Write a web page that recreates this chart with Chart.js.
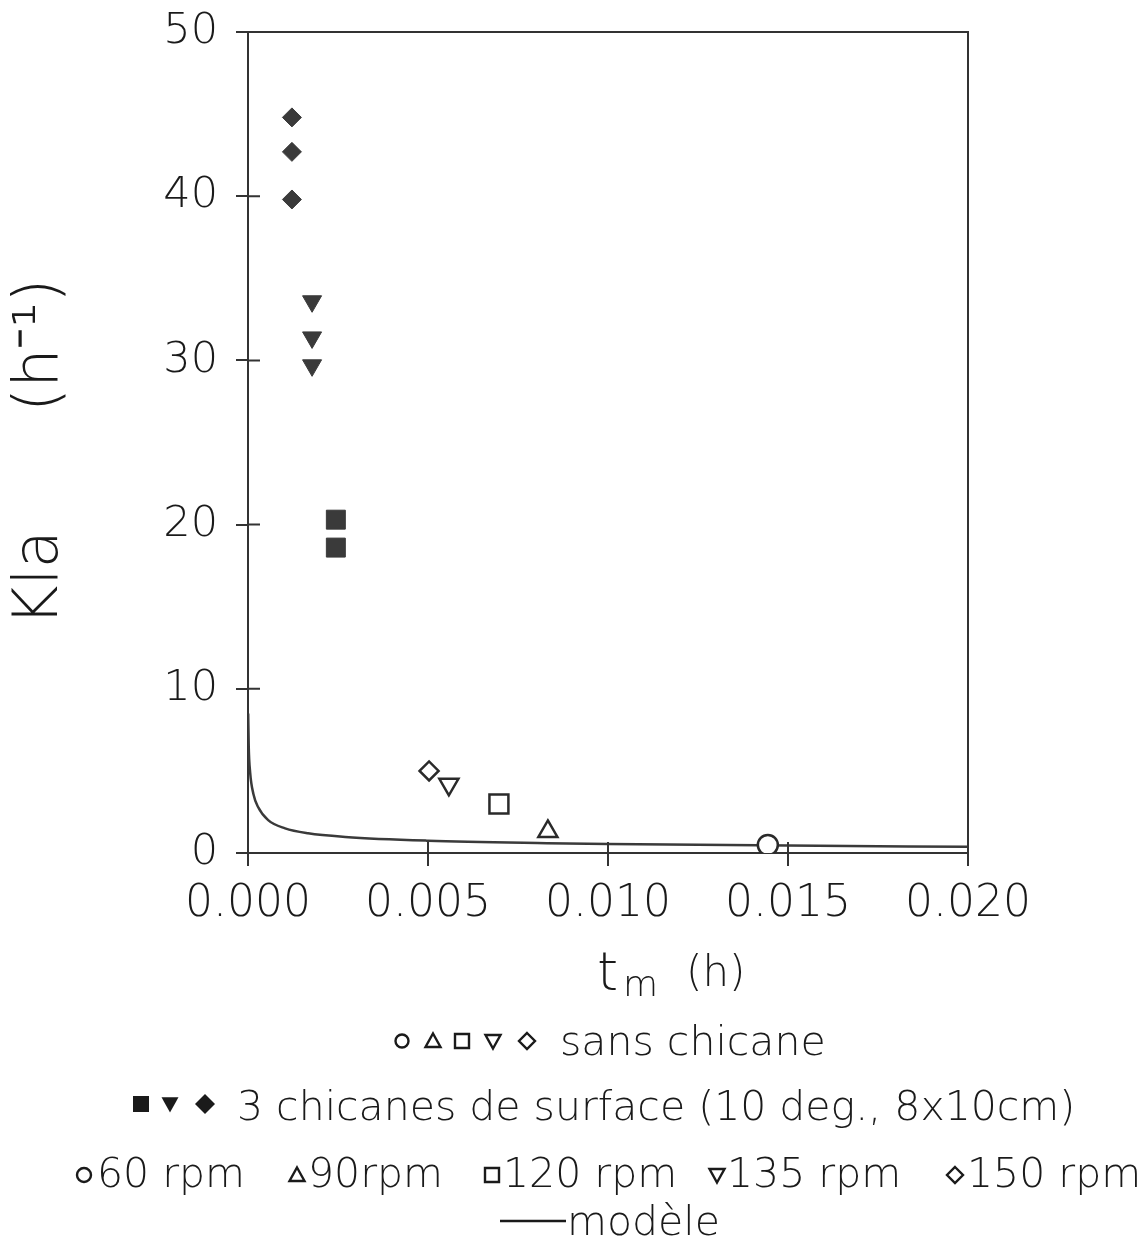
<!DOCTYPE html>
<html><head><meta charset="utf-8">
<script src="https://cdn.jsdelivr.net/npm/chart.js@4.4.1/dist/chart.umd.min.js"></script>
<style>html,body{margin:0;padding:0;background:#fff}#wrap{width:1147px;height:1243px;position:relative}</style>
</head><body><div id="wrap"><canvas id="c" width="1147" height="1243"></canvas></div>
<script>
// ---- data ----
const xTickValues = [0, 0.005, 0.010, 0.015, 0.020];
const yTickValues = [0, 10, 20, 30, 40, 50];

// sans chicane (open symbols)
const rpm60_t  = [0.01444];  const rpm60_kla  = [0.49];
const rpm90_t  = [0.00833];  const rpm90_kla  = [1.31];
const rpm120_t = [0.00697];  const rpm120_kla = [2.98];
const rpm135_t = [0.00558];  const rpm135_kla = [4.18];
const rpm150_t = [0.00503];  const rpm150_kla = [5.00];

// 3 chicanes de surface (filled symbols)
const chic120_t = [0.00244, 0.00244];          const chic120_kla = [20.3, 18.6];
const chic135_t = [0.00178, 0.00178, 0.00178]; const chic135_kla = [33.6, 31.4, 29.7];
const chic150_t = [0.00122, 0.00122, 0.00122]; const chic150_kla = [44.8, 42.7, 39.8];

// modèle (curve)
const model_t   = [0.000005, 0.00002, 0.00006, 0.00015, 0.00028, 0.00056, 0.00103, 0.00167, 0.0027, 0.005, 0.0083, 0.010, 0.015, 0.020];
const model_kla = [8.5, 6.5, 4.9, 3.6, 2.8, 2.0, 1.5, 1.2, 0.98, 0.75, 0.6, 0.55, 0.45, 0.38];

// legend texts
const legendRow1 = 'sans chicane';
const legendRow2 = '3 chicanes de surface (10 deg., 8x10cm)';
const legendRpm = ['60 rpm', '90rpm', '120 rpm', '135 rpm', '150 rpm'];
const legendModel = 'modèle';
const yTitle = 'Kla      (h\u207B\u00B9) ';

const FAM = '"DejaVu Sans", "Liberation Sans", sans-serif';
const INK = '#2a2a2a';

function pts(xs, ys) { return xs.map((x, i) => ({x: x, y: ys[i]})); }

function openDs(label, xs, ys, style, r, rot) {
  return {label, data: pts(xs, ys), pointStyle: style, pointRadius: r, pointRotation: rot || 0,
    pointBackgroundColor: '#fff', pointBorderColor: INK, pointBorderWidth: 2.5, showLine: false, order: 1};
}
function fillDs(label, xs, ys, style, r, rot) {
  return {label, data: pts(xs, ys), pointStyle: style, pointRadius: r, pointRotation: rot || 0,
    pointBackgroundColor: '#3a3a3a', pointBorderColor: '#3a3a3a', pointBorderWidth: 1, showLine: false, order: 1};
}

// legend symbol drawing helper
function sym(ctx, type, cx, cy, s, filled) {
  ctx.save();
  ctx.beginPath();
  if (type === 'circle') ctx.arc(cx, cy, s, 0, Math.PI * 2);
  else if (type === 'up') { ctx.moveTo(cx, cy - s); ctx.lineTo(cx + s, cy + s * 0.8); ctx.lineTo(cx - s, cy + s * 0.8); ctx.closePath(); }
  else if (type === 'down') { ctx.moveTo(cx, cy + s); ctx.lineTo(cx + s, cy - s * 0.8); ctx.lineTo(cx - s, cy - s * 0.8); ctx.closePath(); }
  else if (type === 'square') ctx.rect(cx - s, cy - s, 2 * s, 2 * s);
  else if (type === 'diamond') { ctx.moveTo(cx, cy - s); ctx.lineTo(cx + s, cy); ctx.lineTo(cx, cy + s); ctx.lineTo(cx - s, cy); ctx.closePath(); }
  if (filled) { ctx.fillStyle = '#1a1a1a'; ctx.fill(); }
  else { ctx.lineWidth = 2.4; ctx.strokeStyle = '#1a1a1a'; ctx.stroke(); }
  ctx.restore();
}

const decor = {
  id: 'decor',
  afterDraw(chart) {
    const ctx = chart.ctx, a = chart.chartArea;
    const xs = chart.scales.x, ys = chart.scales.y;
    ctx.save();
    // frame top & right
    ctx.strokeStyle = '#333'; ctx.lineWidth = 2;
    ctx.beginPath(); ctx.moveTo(a.left, a.top); ctx.lineTo(a.right, a.top); ctx.lineTo(a.right, a.bottom); ctx.stroke();
    // inner tick parts
    ctx.beginPath();
    xs.ticks.forEach(t => { const p = xs.getPixelForValue(t.value); ctx.moveTo(p, a.bottom); ctx.lineTo(p, a.bottom - 11); });
    ys.ticks.forEach(t => { const p = ys.getPixelForValue(t.value); ctx.moveTo(a.left, p); ctx.lineTo(a.left + 12, p); });
    ctx.stroke();

    // x title: t_m (h)
    ctx.fillStyle = '#1a1a1a';
    ctx.textBaseline = 'alphabetic'; ctx.textAlign = 'left';
    ctx.font = '300 54px ' + FAM; ctx.fillText('t', 597, 990);
    ctx.font = '300 36px ' + FAM; ctx.fillText('m', 623, 996);
    ctx.font = '300 42px ' + FAM; ctx.fillText('(h)', 686, 986);

    // legend
    ctx.font = '300 41px ' + FAM;
    // row 1
    sym(ctx, 'circle', 402, 1041, 6.5, false);
    sym(ctx, 'up', 433, 1041, 7.5, false);
    sym(ctx, 'square', 462, 1041, 7, false);
    sym(ctx, 'down', 493, 1041, 7.5, false);
    sym(ctx, 'diamond', 527, 1041, 8, false);
    ctx.fillText(legendRow1, 560, 1055);
    // row 2
    sym(ctx, 'square', 141, 1104, 8, true);
    sym(ctx, 'down', 170, 1104, 8.5, true);
    sym(ctx, 'diamond', 205, 1104, 10, true);
    ctx.fillText(legendRow2, 237, 1120);
    // row 3
    const cy3 = 1175, bl3 = 1187;
    sym(ctx, 'circle', 84, cy3, 7, false); ctx.fillText(legendRpm[0], 97, bl3);
    sym(ctx, 'up', 297, cy3, 7.5, false); ctx.fillText(legendRpm[1], 308, bl3);
    sym(ctx, 'square', 492, cy3, 7, false); ctx.fillText(legendRpm[2], 503, bl3);
    sym(ctx, 'down', 717, cy3, 7.5, false); ctx.fillText(legendRpm[3], 727, bl3);
    sym(ctx, 'diamond', 955, cy3, 8, false); ctx.fillText(legendRpm[4], 967, bl3);
    // row 4
    ctx.strokeStyle = '#1a1a1a'; ctx.lineWidth = 2.5;
    ctx.beginPath(); ctx.moveTo(500, 1221); ctx.lineTo(566, 1221); ctx.stroke();
    ctx.fillText(legendModel, 567, 1235);
    ctx.restore();
  }
};

new Chart(document.getElementById('c'), {
  type: 'scatter',
  data: {
    datasets: [
      {label: 'modèle', type: 'line', data: pts(model_t, model_kla), borderColor: '#3a3a3a', borderWidth: 2.5,
       pointRadius: 0, cubicInterpolationMode: 'monotone', fill: false, order: 2},
      openDs('60 rpm', rpm60_t, rpm60_kla, 'circle', 10),
      openDs('90 rpm', rpm90_t, rpm90_kla, 'triangle', 11),
      openDs('120 rpm', rpm120_t, rpm120_kla, 'rect', 13.4),
      openDs('135 rpm', rpm135_t, rpm135_kla, 'triangle', 11, 180),
      openDs('150 rpm', rpm150_t, rpm150_kla, 'rectRot', 9.5),
      fillDs('120 rpm chicanes', chic120_t, chic120_kla, 'rect', 13.4),
      fillDs('135 rpm chicanes', chic135_t, chic135_kla, 'triangle', 11, 180),
      fillDs('150 rpm chicanes', chic150_t, chic150_kla, 'rectRot', 9.5)
    ]
  },
  options: {
    responsive: false, animation: false, devicePixelRatio: 1,
    layout: {padding: {left: 0, right: 179, top: 32, bottom: 0}},
    plugins: {legend: {display: false}, tooltip: {enabled: false}},
    scales: {
      x: {
        type: 'linear', min: 0, max: 0.02,
        afterBuildTicks: s => { s.ticks = xTickValues.map(v => ({value: v})); },
        afterFit: s => { s.height = 390; s.paddingLeft = 0; s.paddingRight = 0; },
        ticks: {callback: v => v.toFixed(3), font: {family: FAM, size: 44, weight: 300}, color: '#1a1a1a', padding: 12, maxRotation: 0, autoSkip: false},
        grid: {drawOnChartArea: false, drawTicks: true, tickLength: 13, color: '#333', lineWidth: 2},
        border: {color: '#333', width: 2}
      },
      y: {
        min: 0, max: 50,
        afterBuildTicks: s => { s.ticks = yTickValues.map(v => ({value: v})); },
        afterFit: s => { s.width = 248; s.paddingTop = 0; s.paddingBottom = 0; },
        ticks: {font: {family: FAM, size: 43, weight: 300}, color: '#1a1a1a', padding: 18, autoSkip: false},
        grid: {drawOnChartArea: false, drawTicks: true, tickLength: 12, color: '#333', lineWidth: 2},
        border: {color: '#333', width: 2},
        title: {display: true, text: yTitle, font: {family: FAM, size: 62, weight: 300}, color: '#1a1a1a', padding: {top: 4, bottom: 0}}
      }
    }
  },
  plugins: [decor]
});
</script></body></html>
